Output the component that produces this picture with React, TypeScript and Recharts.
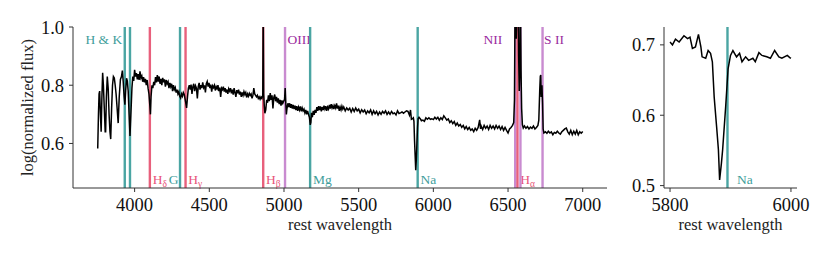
import React from 'react';
import { LineChart, Line, XAxis, YAxis, ReferenceLine } from 'recharts';

// ---------- data ----------
const specWave = [
  3753, 3758, 3762, 3766, 3771, 3776, 3781, 3786, 3791, 3797, 3803, 3806, 3811, 3817, 3823, 3829, 3835, 3840, 3846, 3852,
  3858, 3864, 3870, 3876, 3883, 3890, 3897, 3905, 3912, 3918, 3924, 3930, 3935, 3940, 3946, 3951, 3957, 3963, 3969, 3975,
  3982, 3988, 3994, 4000, 4006, 4012, 4018, 4024, 4030, 4036, 4042, 4048, 4054, 4060, 4066, 4072, 4078, 4084, 4090, 4096,
  4102, 4106, 4110, 4116, 4122, 4128, 4134, 4140, 4146, 4152, 4158, 4164, 4170, 4176, 4182, 4188, 4194, 4200, 4206, 4212,
  4218, 4224, 4230, 4236, 4242, 4248, 4254, 4260, 4266, 4272, 4278, 4284, 4290, 4296, 4302, 4308, 4314, 4320, 4326, 4332,
  4338, 4344, 4348, 4354, 4360, 4366, 4372, 4378, 4384, 4390, 4396, 4402, 4408, 4414, 4420, 4426, 4432, 4438, 4444, 4450,
  4456, 4462, 4468, 4474, 4480, 4486, 4492, 4498, 4504, 4510, 4516, 4522, 4528, 4534, 4540, 4546, 4552, 4558, 4564, 4570,
  4576, 4582, 4588, 4594, 4600, 4606, 4612, 4618, 4624, 4630, 4636, 4642, 4648, 4654, 4660, 4666, 4672, 4678, 4684, 4690,
  4696, 4702, 4708, 4714, 4720, 4726, 4732, 4738, 4744, 4750, 4756, 4762, 4768, 4774, 4780, 4786, 4792, 4798, 4804, 4810,
  4816, 4822, 4828, 4834, 4840, 4846, 4852, 4858, 4861, 4864, 4868, 4872, 4878, 4884, 4890, 4896, 4902, 4908, 4914, 4920,
  4926, 4932, 4938, 4944, 4950, 4956, 4962, 4968, 4974, 4980, 4986, 4992, 4998, 5004, 5008, 5012, 5016, 5020, 5026, 5032,
  5038, 5044, 5050, 5056, 5062, 5068, 5074, 5080, 5086, 5092, 5098, 5104, 5110, 5116, 5122, 5128, 5134, 5140, 5146, 5152,
  5158, 5164, 5170, 5176, 5180, 5184, 5190, 5196, 5202, 5208, 5214, 5220, 5226, 5232, 5238, 5244, 5250, 5256, 5262, 5268,
  5274, 5280, 5286, 5292, 5298, 5304, 5310, 5316, 5322, 5328, 5334, 5340, 5346, 5352, 5358, 5364, 5370, 5376, 5382, 5388,
  5394, 5400, 5410, 5420, 5430, 5440, 5450, 5460, 5470, 5480, 5490, 5500, 5510, 5520, 5530, 5540, 5550, 5560, 5570, 5580,
  5590, 5600, 5610, 5620, 5630, 5640, 5650, 5660, 5670, 5680, 5690, 5700, 5710, 5720, 5730, 5740, 5750, 5760, 5770, 5780,
  5790, 5800, 5810, 5820, 5830, 5840, 5847, 5853, 5860, 5866, 5870, 5874, 5878, 5882, 5886, 5890, 5894, 5898, 5904, 5912,
  5920, 5930, 5940, 5950, 5960, 5970, 5980, 5990, 6000, 6010, 6020, 6030, 6040, 6050, 6060, 6070, 6080, 6090, 6100, 6110,
  6120, 6130, 6140, 6150, 6160, 6170, 6180, 6190, 6200, 6210, 6220, 6230, 6240, 6250, 6260, 6270, 6280, 6290, 6300, 6310,
  6316, 6320, 6330, 6340, 6350, 6360, 6370, 6380, 6390, 6400, 6410, 6420, 6430, 6440, 6450, 6460, 6470, 6480, 6490, 6500,
  6510, 6520, 6530, 6538, 6543, 6547, 6551, 6555, 6559, 6563, 6567, 6571, 6575, 6579, 6583, 6587, 6591, 6596, 6602, 6610,
  6620, 6630, 6640, 6650, 6660, 6670, 6680, 6690, 6700, 6706, 6712, 6716, 6719, 6722, 6727, 6731, 6735, 6740, 6750, 6760,
  6770, 6780, 6790, 6800, 6810, 6820, 6830, 6840, 6850, 6860, 6870, 6880, 6890, 6900, 6910, 6920, 6930, 6940, 6950, 6960,
  6970, 6980, 6990, 7000,
];

const specFlux = [
  0.583, 0.700, 0.770, 0.780, 0.700, 0.640, 0.760, 0.843, 0.800, 0.720, 0.640, 0.640, 0.760, 0.830, 0.790, 0.700, 0.640, 0.615, 0.720, 0.800,
  0.830, 0.825, 0.800, 0.770, 0.720, 0.670, 0.760, 0.820, 0.830, 0.850, 0.810, 0.760, 0.733, 0.780, 0.824, 0.815, 0.780, 0.700, 0.626, 0.700,
  0.790, 0.830, 0.815, 0.853, 0.830, 0.842, 0.820, 0.838, 0.818, 0.848, 0.825, 0.832, 0.812, 0.828, 0.810, 0.822, 0.800, 0.818, 0.790, 0.770,
  0.730, 0.700, 0.760, 0.800, 0.790, 0.812, 0.800, 0.828, 0.810, 0.835, 0.812, 0.830, 0.805, 0.822, 0.800, 0.825, 0.810, 0.820, 0.795, 0.818,
  0.805, 0.812, 0.790, 0.808, 0.795, 0.805, 0.780, 0.800, 0.785, 0.792, 0.775, 0.785, 0.770, 0.778, 0.762, 0.756, 0.770, 0.762, 0.775, 0.768,
  0.752, 0.735, 0.722, 0.760, 0.790, 0.800, 0.785, 0.802, 0.770, 0.795, 0.805, 0.780, 0.798, 0.790, 0.755, 0.795, 0.808, 0.785, 0.800, 0.790,
  0.810, 0.792, 0.800, 0.775, 0.805, 0.813, 0.795, 0.808, 0.790, 0.802, 0.778, 0.798, 0.792, 0.800, 0.782, 0.795, 0.788, 0.800, 0.780, 0.792,
  0.760, 0.790, 0.785, 0.795, 0.778, 0.790, 0.775, 0.785, 0.770, 0.788, 0.780, 0.790, 0.772, 0.785, 0.768, 0.790, 0.775, 0.760, 0.783, 0.772,
  0.785, 0.768, 0.778, 0.760, 0.775, 0.765, 0.778, 0.768, 0.775, 0.758, 0.770, 0.762, 0.772, 0.765, 0.770, 0.755, 0.765, 0.790, 0.770, 0.765,
  0.760, 0.765, 0.755, 0.760, 0.752, 0.760, 0.755, 0.765, 1.050, 0.770, 0.730, 0.704, 0.715, 0.750, 0.740, 0.765, 0.745, 0.773, 0.750, 0.765,
  0.720, 0.758, 0.768, 0.745, 0.760, 0.740, 0.755, 0.735, 0.750, 0.730, 0.748, 0.738, 0.745, 0.752, 0.790, 0.740, 0.700, 0.720, 0.738, 0.725,
  0.738, 0.722, 0.735, 0.720, 0.732, 0.718, 0.730, 0.715, 0.728, 0.712, 0.725, 0.715, 0.727, 0.710, 0.722, 0.712, 0.718, 0.705, 0.715, 0.700,
  0.712, 0.700, 0.690, 0.664, 0.672, 0.705, 0.690, 0.712, 0.698, 0.715, 0.705, 0.725, 0.712, 0.728, 0.715, 0.727, 0.710, 0.725, 0.715, 0.730,
  0.718, 0.728, 0.712, 0.725, 0.718, 0.732, 0.720, 0.735, 0.722, 0.730, 0.718, 0.730, 0.722, 0.738, 0.720, 0.730, 0.712, 0.725, 0.715, 0.728,
  0.718, 0.725, 0.712, 0.722, 0.715, 0.721, 0.708, 0.720, 0.710, 0.722, 0.712, 0.718, 0.705, 0.716, 0.708, 0.715, 0.702, 0.712, 0.705, 0.715,
  0.700, 0.712, 0.702, 0.710, 0.698, 0.708, 0.700, 0.710, 0.704, 0.712, 0.700, 0.708, 0.700, 0.710, 0.702, 0.705, 0.698, 0.712, 0.703, 0.705,
  0.708, 0.704, 0.708, 0.712, 0.710, 0.697, 0.715, 0.683, 0.685, 0.688, 0.676, 0.610, 0.560, 0.508, 0.545, 0.600, 0.655, 0.685, 0.690, 0.685,
  0.678, 0.680, 0.676, 0.688, 0.683, 0.688, 0.683, 0.685, 0.682, 0.690, 0.684, 0.690, 0.680, 0.688, 0.682, 0.695, 0.688, 0.680, 0.684, 0.672,
  0.678, 0.668, 0.675, 0.662, 0.670, 0.660, 0.665, 0.655, 0.662, 0.650, 0.658, 0.648, 0.655, 0.645, 0.650, 0.641, 0.652, 0.645, 0.655, 0.681,
  0.650, 0.660, 0.648, 0.662, 0.652, 0.660, 0.648, 0.662, 0.652, 0.660, 0.650, 0.662, 0.652, 0.660, 0.648, 0.658, 0.645, 0.655, 0.645, 0.636,
  0.650, 0.655, 0.662, 0.672, 0.750, 1.080, 1.020, 0.960, 1.050, 1.400, 1.200, 0.900, 0.780, 0.850, 1.100, 0.850, 0.720, 0.665, 0.653, 0.660,
  0.652, 0.658, 0.650, 0.656, 0.652, 0.660, 0.650, 0.655, 0.662, 0.680, 0.780, 0.830, 0.835, 0.760, 0.800, 0.740, 0.650, 0.636, 0.640, 0.635,
  0.642, 0.636, 0.640, 0.630, 0.638, 0.635, 0.642, 0.636, 0.632, 0.640, 0.645, 0.650, 0.653, 0.640, 0.632, 0.645, 0.630, 0.642, 0.632, 0.645,
  0.630, 0.640, 0.635, 0.641,
];

const zoomWave = [
  5800, 5804, 5809, 5815, 5823, 5829, 5833, 5837, 5842, 5847, 5851, 5853, 5859, 5863, 5867, 5870, 5873, 5877, 5880, 5882,
  5885, 5887, 5892, 5896, 5900, 5904, 5910, 5915, 5919, 5925, 5930, 5937, 5941, 5947, 5952, 5960, 5966, 5973, 5980, 5985,
  5994, 5998, 6000,
];
const zoomFlux = [
  0.704, 0.700, 0.708, 0.704, 0.713, 0.709, 0.711, 0.695, 0.697, 0.715, 0.697, 0.683, 0.681, 0.692, 0.688, 0.676, 0.626, 0.584, 0.551, 0.508,
  0.532, 0.551, 0.612, 0.666, 0.685, 0.692, 0.683, 0.688, 0.676, 0.683, 0.678, 0.681, 0.676, 0.689, 0.685, 0.683, 0.681, 0.692, 0.683, 0.681,
  0.685, 0.682, 0.681,
];

// spectral feature lines
const featureWave = [3934, 3969, 4102, 4304, 4341, 4861, 5007, 5175, 5895, 6548, 6563, 6583, 6731];
const featureKind = ['abs', 'abs', 'balmer', 'abs', 'balmer', 'balmer', 'emis', 'abs', 'abs', 'emis', 'balmer', 'emis', 'emis'];

// labels
const labelText = ['H & K', 'H', 'G', 'H', 'H', 'OIII', 'Mg', 'Na', 'NII', 'H', 'S II'];
const labelSub = ['', 'δ', '', 'γ', 'β', '', '', '', '', 'α', ''];
const labelWave = [3934, 4102, 4304, 4341, 4861, 5007, 5175, 5895, 6548, 6563, 6731];
const labelKind = ['abs', 'balmer', 'abs', 'balmer', 'balmer', 'emis', 'abs', 'abs', 'emis', 'balmer', 'emis'];
const labelRow = ['top', 'bottom', 'bottom', 'bottom', 'bottom', 'top', 'bottom', 'bottom', 'top', 'bottom', 'top'];

const xTicksMain = [4000, 4500, 5000, 5500, 6000, 6500, 7000];
const yTicksMain = [0.6, 0.8, 1.0];
const xTicksZoom = [5800, 6000];
const yTicksZoom = [0.5, 0.6, 0.7];

const mainX: [number, number] = [3587.5, 7162.5];
const mainY: [number, number] = [0.447, 1.0];
const zoomX: [number, number] = [5790, 6010];
const zoomY: [number, number] = [0.4966, 0.7254];

// ---------- styles ----------
const lineColor: Record<string, string> = { abs: '#4aa5a3', balmer: '#e8607c', emis: '#c98bd0' };
const textColor: Record<string, string> = { abs: '#3f9e9b', balmer: '#e8557a', emis: '#9a2a9e' };
const labelDx: Record<string, number> = {
  'H & K': -2.5, G: -1.5, NII: -13, OIII: 2.5, 'S II': 1.5,
};
const FONT = '"Liberation Serif", "DejaVu Serif", serif';
const AXIS = '#333';
const TICK_FS = 18.5;

const mainData = specWave.map((w, i) => ({ w, f: specFlux[i] }));
const zoomData = zoomWave.map((w, i) => ({ w, f: zoomFlux[i] }));

const makeLabel = (idx: number, plotTop: number, plotBottom: number, startDx: number) => (props: any) => {
  const vb = props.viewBox || {};
  const x = vb.x ?? 0;
  const t = labelText[idx];
  const anchorEnd = labelDx[t] !== undefined && labelDx[t] < 0;
  const dx = labelDx[t] !== undefined ? labelDx[t] : startDx;
  const y = labelRow[idx] === 'top' ? plotTop + 17 : plotBottom - 4.5;
  return (
    <text
      x={x + dx}
      y={y}
      textAnchor={anchorEnd ? 'end' : 'start'}
      fill={textColor[labelKind[idx]]}
      fontFamily={FONT}
      fontSize={13.5}
    >
      <tspan>{t}</tspan>
      {labelSub[idx] ? (
        <tspan dy={3} fontSize={9.5}>
          {labelSub[idx]}
        </tspan>
      ) : null}
    </text>
  );
};

const XTick = (props: any) => {
  const { x, y, payload } = props;
  return (
    <text x={x} y={y} dy="0.71em" textAnchor="middle" fontFamily={FONT} fontSize={TICK_FS} fill="#111">
      {String(payload.value)}
    </text>
  );
};
const YTick = (props: any) => {
  const { x, y, payload } = props;
  return (
    <text x={x} y={y} dy="0.355em" textAnchor="end" fontFamily={FONT} fontSize={TICK_FS} fill="#111">
      {Number(payload.value).toFixed(1)}
    </text>
  );
};

const axisLabelStyle = { fontFamily: FONT, fontSize: 16.5, fill: '#222' };

function vertical(w: number, yd: [number, number]) {
  return [
    { w, f: yd[0] },
    { w, f: yd[1] },
  ];
}

export default function App() {
  return (
    <div style={{ position: 'absolute', left: 0, top: 0, width: 830, height: 256, background: '#fff', fontFamily: FONT }}>
      <div style={{ position: 'absolute', left: 0, top: 0 }}>
        <LineChart width={830} height={256} data={mainData} margin={{ top: 27, right: 223, bottom: 23, left: 0 }}>
          <XAxis
            type="number"
            dataKey="w"
            domain={mainX}
            allowDataOverflow
            ticks={xTicksMain}
            interval={0}
            height={45}
            tickSize={4}
            tickMargin={6}
            tick={<XTick />}
            tickLine={{ stroke: AXIS }}
            axisLine={{ stroke: AXIS }}
            label={{ value: 'rest wavelength', position: 'insideBottom', offset: 3, style: axisLabelStyle }}
          />
          <XAxis xAxisId="top" orientation="top" type="number" dataKey="w" domain={mainX} allowDataOverflow height={0} tick={false} tickLine={false} axisLine={{ stroke: AXIS }} />
          <YAxis
            type="number"
            domain={mainY}
            allowDataOverflow
            ticks={yTicksMain}
            interval={0}
            width={73}
            tickSize={4}
            tickMargin={5}
            tick={<YTick />}
            tickLine={{ stroke: AXIS }}
            axisLine={{ stroke: AXIS }}
            label={{ value: 'log(normalized flux)', angle: -90, position: 'insideLeft', offset: 27, style: { ...axisLabelStyle, textAnchor: 'middle' } }}
          />
          <YAxis yAxisId="right" orientation="right" type="number" domain={mainY} width={0} tick={false} tickLine={false} axisLine={{ stroke: AXIS }} />
          {labelWave.map((w, i) => (
            <ReferenceLine key={'l' + i} x={w} stroke="none" strokeWidth={0} label={makeLabel(i, 27, 188, 2.8)} />
          ))}
          {featureWave.map((w, i) => (
            <Line
              key={'f' + i}
              data={vertical(w, mainY)}
              dataKey="f"
              type="linear"
              stroke={lineColor[featureKind[i]]}
              strokeWidth={2.4}
              dot={false}
              activeDot={false}
              isAnimationActive={false}
            />
          ))}
          <Line type="linear" dataKey="f" stroke="#000" strokeWidth={1.5} dot={false} isAnimationActive={false} />
        </LineChart>
      </div>
      <div style={{ position: 'absolute', left: 0, top: 0 }}>
        <LineChart width={830} height={256} data={zoomData} margin={{ top: 27, right: 33, bottom: 23, left: 600 }}>
          <XAxis
            type="number"
            dataKey="w"
            domain={zoomX}
            allowDataOverflow
            ticks={xTicksZoom}
            interval={0}
            height={45}
            tickSize={4}
            tickMargin={6}
            tick={<XTick />}
            tickLine={{ stroke: AXIS }}
            axisLine={{ stroke: AXIS }}
            label={{ value: 'rest wavelength', position: 'insideBottom', offset: 3, style: axisLabelStyle }}
          />
          <XAxis xAxisId="top" orientation="top" type="number" dataKey="w" domain={zoomX} allowDataOverflow height={0} tick={false} tickLine={false} axisLine={{ stroke: AXIS }} />
          <YAxis
            type="number"
            domain={zoomY}
            allowDataOverflow
            ticks={yTicksZoom}
            interval={0}
            width={64}
            tickSize={4}
            tickMargin={5}
            tick={<YTick />}
            tickLine={{ stroke: AXIS }}
            axisLine={{ stroke: AXIS }}
          />
          <YAxis yAxisId="right" orientation="right" type="number" domain={zoomY} width={0} tick={false} tickLine={false} axisLine={{ stroke: AXIS }} />
          <ReferenceLine x={5895} stroke="none" strokeWidth={0} label={makeLabel(7, 27, 188, 9.5)} />
          <Line
            data={vertical(5895, zoomY)}
            dataKey="f"
            type="linear"
            stroke={lineColor.abs}
            strokeWidth={2.4}
            dot={false}
            activeDot={false}
            isAnimationActive={false}
          />
          <Line type="linear" dataKey="f" stroke="#000" strokeWidth={1.5} dot={false} isAnimationActive={false} />
        </LineChart>
      </div>
    </div>
  );
}
